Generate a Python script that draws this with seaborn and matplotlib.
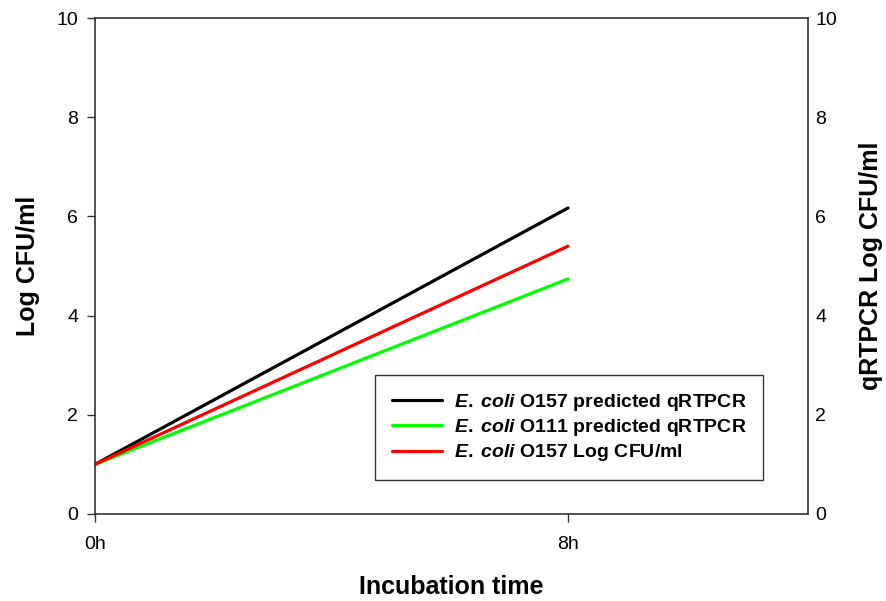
import pandas as pd
import seaborn as sns
import matplotlib
matplotlib.use("Agg")
import matplotlib.pyplot as plt
from matplotlib.lines import Line2D

hours = [0, 8]
o157_qrtpcr = [1.0, 6.17]
o111_qrtpcr = [1.0, 4.74]
o157_cfu = [1.0, 5.40]
series_names = [
    r"$\it{E.\;coli}$ O157 predicted qRTPCR",
    r"$\it{E.\;coli}$ O111 predicted qRTPCR",
    r"$\it{E.\;coli}$ O157 Log CFU/ml",
]
series_colors = ["#000000", "#00ff00", "#ff0000"]
x_ticks = [0, 8]
x_tick_labels = ["0h", "8h"]
y_ticks = [0, 2, 4, 6, 8, 10]

sns.set_theme(style="white")
plt.rcParams["font.family"] = ["Liberation Sans", "DejaVu Sans"]
plt.rcParams["mathtext.fontset"] = "custom"
plt.rcParams["mathtext.it"] = "Liberation Sans:italic:bold"
plt.rcParams["mathtext.rm"] = "Liberation Sans:bold"
plt.rcParams["text.color"] = "black"
plt.rcParams["axes.labelcolor"] = "black"
plt.rcParams["xtick.color"] = "black"
plt.rcParams["ytick.color"] = "black"

rows = []
for name, vals in zip(series_names, [o157_qrtpcr, o111_qrtpcr, o157_cfu]):
    for h, v in zip(hours, vals):
        rows.append({"hour": h, "value": v, "series": name})
df = pd.DataFrame(rows)

fig = plt.figure(figsize=(8.87, 6.01), dpi=100)
ax = fig.add_axes([0.1071, 0.1448, 0.8039, 0.8252])
sns.lineplot(data=df, x="hour", y="value", hue="series", hue_order=series_names,
             palette=series_colors, linewidth=2.3, ax=ax, legend=False)

ax.set_xlim(0, 12.06)
ax.set_ylim(0, 10)
ax.set_xticks(x_ticks)
ax.set_xticklabels(x_tick_labels, fontsize=14)
ax.set_yticks(y_ticks)
ax.set_yticklabels([str(t) for t in y_ticks], fontsize=14)
ax.tick_params(axis="both", direction="out", length=6, width=1, color="#333333",
               pad=6, left=True, bottom=True)
ax.tick_params(axis="x", pad=10)
for s in ax.spines.values():
    s.set_color("#333333")
    s.set_linewidth(1.2)
ax.set_xlabel("Incubation time", fontsize=18, fontweight="bold", labelpad=16)
ax.set_ylabel("Log CFU/ml", fontsize=18, fontweight="bold", labelpad=12)

ax2 = ax.twinx()
ax2.set_ylim(0, 10)
ax2.set_yticks(y_ticks)
ax2.set_yticklabels([str(t) for t in y_ticks], fontsize=14)
ax2.tick_params(axis="y", length=0, pad=5, right=True)
for s in ax2.spines.values():
    s.set_visible(False)
ax2.set_ylabel("qRTPCR Log CFU/ml", fontsize=18, fontweight="bold", labelpad=16)

handles = [Line2D([0], [0], color=c, lw=2.3) for c in series_colors]
leg = ax.legend(handles, series_names, loc="lower right", bbox_to_anchor=(0.937, 0.0685),
                borderaxespad=0, fontsize=14, frameon=True, fancybox=False,
                handlelength=2.6, borderpad=0.85, labelspacing=0.22, handletextpad=0.6)
leg.get_frame().set_edgecolor("#000000")
leg.get_frame().set_linewidth(1.0)
for t in leg.get_texts():
    t.set_fontweight("bold")

fig.savefig("out.png", dpi=100)
